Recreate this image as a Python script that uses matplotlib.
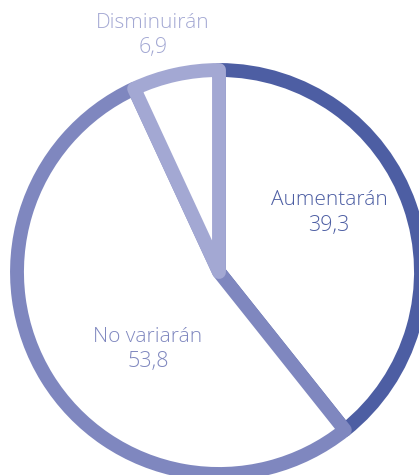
import matplotlib
matplotlib.use("Agg")
import matplotlib.pyplot as plt

categories = ["Aumentarán", "No variarán", "Disminuirán"]
values = [39.3, 53.8, 6.9]
value_labels = ["39,3", "53,8", "6,9"]
colors = ["#4d5ea3", "#7f87bf", "#a3a8d3"]

W, H = 419, 475
fig = plt.figure(figsize=(W / 100, H / 100), dpi=100)
ax = fig.add_axes([0, 0, 1, 1])

cx, cy, r = 219, H - 272, 202
wedges, _ = ax.pie(values, startangle=90, counterclock=False, center=(cx, cy), radius=r,
                   frame=True,
                   wedgeprops=dict(facecolor="white", linewidth=10.0, joinstyle="round"))
for w, c in zip(wedges, colors):
    w.set_edgecolor(c)
ax.set_xlim(0, W)
ax.set_ylim(0, H)
ax.set_aspect("equal")
ax.axis("off")

label_pos = [(329, 200), (148, 337), (153, 23)]
for (x, y), cat, val, c in zip(label_pos, categories, value_labels, colors):
    ax.text(x, H - y, cat, ha="center", va="center", fontsize=15, color=c,
            family="Open Sans", weight="light")
    ax.text(x, H - y - 25, val, ha="center", va="center", fontsize=15.5, color=c,
            family="Open Sans", weight="light")

fig.savefig("out.png", dpi=100)
